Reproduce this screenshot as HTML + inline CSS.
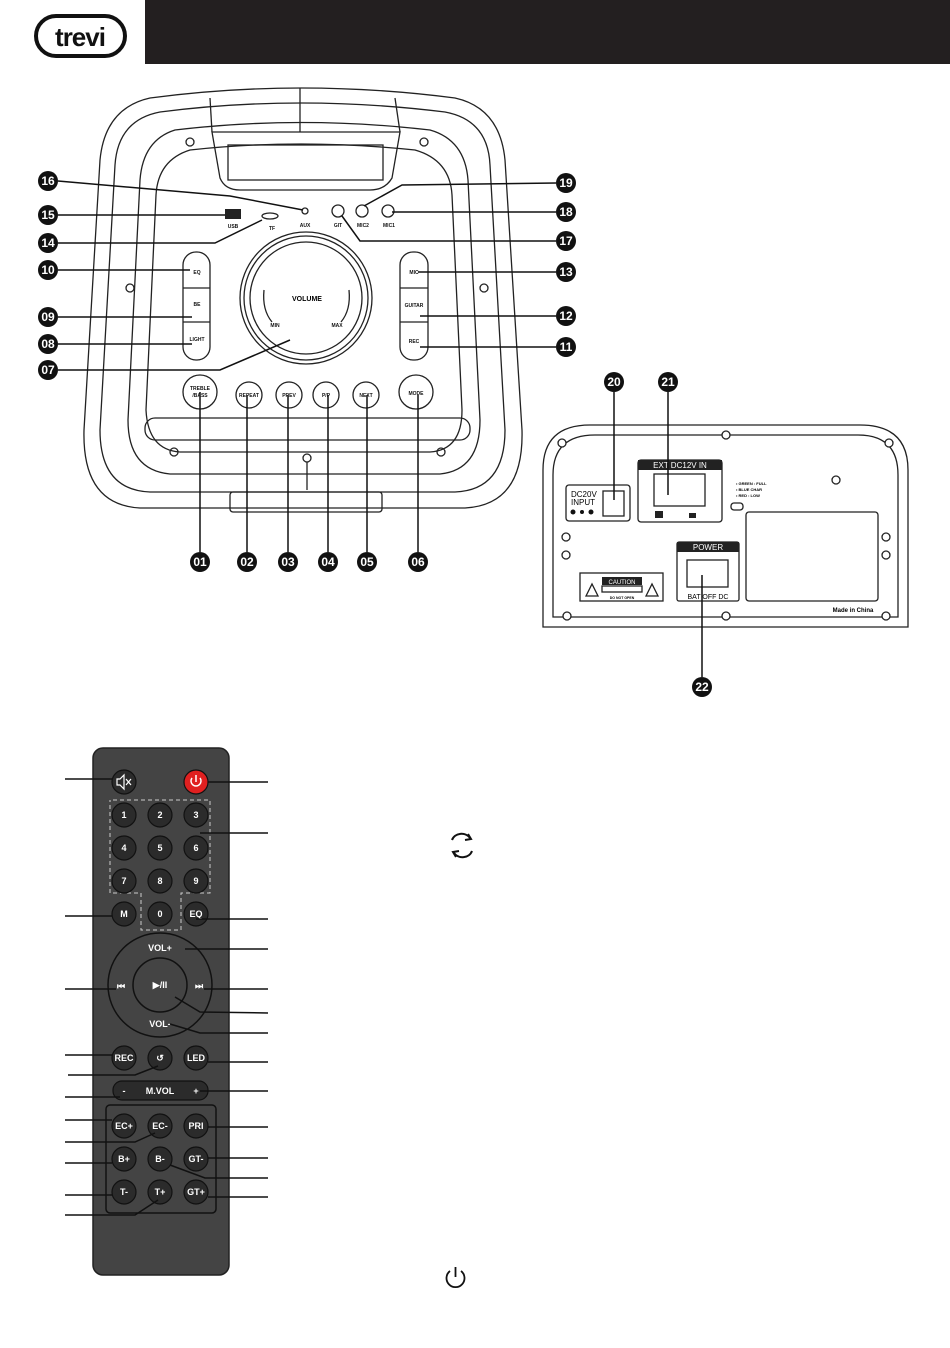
<!DOCTYPE html>
<html><head><meta charset="utf-8"><style>
html,body{margin:0;padding:0;background:#fff;}
svg{display:block;font-family:"Liberation Sans",Arial,sans-serif;}
.b{fill:#111}
.bt{fill:#fff;font-weight:bold;font-size:12px;text-anchor:middle}
.l{stroke:#111;stroke-width:1.5;fill:none}
.o{stroke:#222;stroke-width:1.3;fill:none}
.rb{fill:#2b2b2b;stroke:#111;stroke-width:1.2}
.rt{fill:#fff;font-size:9px;font-weight:bold;text-anchor:middle}
.st{font-size:5px;font-weight:bold;text-anchor:middle;fill:#111}
</style></head><body>
<svg width="950" height="1348" viewBox="0 0 950 1348" xmlns="http://www.w3.org/2000/svg">
<rect x="145" y="0" width="805" height="64" fill="#231f20"/>
<rect x="36" y="16" width="89" height="40" rx="20" fill="none" stroke="#111" stroke-width="4"/>
<text x="80" y="46" font-size="26" font-weight="bold" text-anchor="middle" fill="#111" letter-spacing="-1">trevi</text>

<path class="o" stroke-width="2" d="M150,98 Q300,78 455,98 Q500,108 505,160 L522,430 Q524,505 465,508 L140,508 Q82,505 84,430 L100,160 Q105,108 150,98 Z"/>
<path class="o" d="M160,112 Q300,94 445,112 Q488,120 490,165 L505,430 Q505,490 455,492 L150,492 Q100,490 100,430 L115,165 Q118,120 160,112 Z"/>
<path class="o" stroke-width="2" d="M175,130 Q300,115 430,130 Q465,140 468,180 L480,420 Q480,470 440,474 L170,474 Q128,470 128,420 L140,180 Q143,140 175,130 Z"/>
<path class="o" d="M190,150 Q300,138 415,150 Q450,160 452,195 L462,410 Q462,450 430,452 L180,452 Q148,450 146,410 L156,195 Q158,160 190,150 Z"/>
<path class="o" d="M212,132 L400,132 L392,178 Q385,190 370,190 L240,190 Q225,190 220,178 Z"/>
<rect x="228" y="145" width="155" height="35" class="o"/>
<line x1="300" y1="88" x2="300" y2="132" class="o"/>
<line x1="210" y1="98" x2="212" y2="132" class="o"/>
<line x1="395" y1="98" x2="400" y2="132" class="o"/>
<circle cx="190" cy="142" r="4" class="o"/><circle cx="424" cy="142" r="4" class="o"/>
<circle cx="130" cy="288" r="4" class="o"/><circle cx="484" cy="288" r="4" class="o"/>
<circle cx="174" cy="452" r="4" class="o"/><circle cx="441" cy="452" r="4" class="o"/>
<circle cx="307" cy="458" r="4" class="o"/>
<line x1="307" y1="462" x2="307" y2="490" class="o"/>
<rect x="230" y="492" width="152" height="20" rx="3" class="o"/>
<rect x="145" y="418" width="325" height="22" rx="10" class="o" stroke-width="2"/>
<rect x="225" y="209" width="16" height="10" fill="#222"/>
<text x="233" y="228" class="st">USB</text>
<ellipse cx="270" cy="216" rx="8" ry="3" class="o"/>
<text x="272" y="230" class="st">TF</text>
<circle cx="305" cy="211" r="3" class="o"/>
<text x="305" y="227" class="st">AUX</text>
<circle cx="338" cy="211" r="6" class="o" stroke-width="2"/><text x="338" y="227" class="st">GIT</text>
<circle cx="362" cy="211" r="6" class="o" stroke-width="2"/><text x="363" y="227" class="st">MIC2</text>
<circle cx="388" cy="211" r="6" class="o" stroke-width="2"/><text x="389" y="227" class="st">MIC1</text>
<rect x="183" y="252" width="27" height="108" rx="13" class="o" stroke-width="2"/>
<line x1="183" y1="288" x2="210" y2="288" class="o"/><line x1="183" y1="322" x2="210" y2="322" class="o"/>
<text x="197" y="274" class="st">EQ</text><text x="197" y="306" class="st">BE</text><text x="197" y="341" class="st">LIGHT</text>
<rect x="400" y="252" width="28" height="108" rx="13" class="o" stroke-width="2"/>
<line x1="400" y1="288" x2="428" y2="288" class="o"/><line x1="400" y1="322" x2="428" y2="322" class="o"/>
<text x="414" y="274" class="st">MIC</text><text x="414" y="307" class="st">GUITAR</text><text x="414" y="343" class="st">REC</text>
<circle cx="306" cy="298" r="66" class="o"/>
<circle cx="306" cy="298" r="62" class="o" stroke-width="3"/>
<circle cx="306" cy="298" r="56" class="o"/>
<text x="307" y="301" font-size="7" font-weight="bold" text-anchor="middle">VOLUME</text>
<text x="275" y="327" class="st">MIN</text><text x="337" y="327" class="st">MAX</text>
<path class="o" d="M264,290 Q262,310 272,322"/><path class="o" d="M349,290 Q351,310 341,322"/>
<g class="o" stroke-width="2">
<circle cx="200" cy="392" r="17"/><circle cx="249" cy="395" r="13"/><circle cx="289" cy="395" r="13"/>
<circle cx="326" cy="395" r="13"/><circle cx="366" cy="395" r="13"/><circle cx="416" cy="392" r="17"/>
</g>
<text x="200" y="390" class="st" font-size="6">TREBLE</text><text x="200" y="397" class="st" font-size="6">/BASS</text>
<text x="249" y="397" class="st">REPEAT</text><text x="289" y="397" class="st">PREV</text>
<text x="326" y="397" class="st">P/P</text><text x="366" y="397" class="st">NEXT</text><text x="416" y="395" class="st" font-size="6">MODE</text>
<g class="l">
<polyline points="58,181 230,196 303,210"/>
<line x1="58" y1="215" x2="225" y2="215"/>
<polyline points="58,243 215,243 262,220"/>
<line x1="58" y1="270" x2="190" y2="270"/>
<line x1="58" y1="317" x2="192" y2="317"/>
<line x1="58" y1="344" x2="192" y2="344"/>
<polyline points="58,370 220,370 290,340"/>
<polyline points="556,183 402,185 364,206"/>
<line x1="556" y1="212" x2="392" y2="212"/>
<polyline points="556,241 360,241 342,216"/>
<line x1="556" y1="272" x2="418" y2="272"/>
<line x1="556" y1="316" x2="420" y2="316"/>
<line x1="556" y1="347" x2="420" y2="347"/>
<line x1="200" y1="392" x2="200" y2="552"/>
<line x1="247" y1="395" x2="247" y2="552"/>
<line x1="288" y1="395" x2="288" y2="552"/>
<line x1="328" y1="395" x2="328" y2="552"/>
<line x1="367" y1="395" x2="367" y2="552"/>
<line x1="418" y1="395" x2="418" y2="552"/>
</g>
<g>
<circle class="b" cx="48" cy="181" r="10"/><text class="bt" x="48" y="185">16</text>
<circle class="b" cx="48" cy="215" r="10"/><text class="bt" x="48" y="219">15</text>
<circle class="b" cx="48" cy="243" r="10"/><text class="bt" x="48" y="247">14</text>
<circle class="b" cx="48" cy="270" r="10"/><text class="bt" x="48" y="274">10</text>
<circle class="b" cx="48" cy="317" r="10"/><text class="bt" x="48" y="321">09</text>
<circle class="b" cx="48" cy="344" r="10"/><text class="bt" x="48" y="348">08</text>
<circle class="b" cx="48" cy="370" r="10"/><text class="bt" x="48" y="374">07</text>
<circle class="b" cx="566" cy="183" r="10"/><text class="bt" x="566" y="187">19</text>
<circle class="b" cx="566" cy="212" r="10"/><text class="bt" x="566" y="216">18</text>
<circle class="b" cx="566" cy="241" r="10"/><text class="bt" x="566" y="245">17</text>
<circle class="b" cx="566" cy="272" r="10"/><text class="bt" x="566" y="276">13</text>
<circle class="b" cx="566" cy="316" r="10"/><text class="bt" x="566" y="320">12</text>
<circle class="b" cx="566" cy="347" r="10"/><text class="bt" x="566" y="351">11</text>
<circle class="b" cx="200" cy="562" r="10"/><text class="bt" x="200" y="566">01</text>
<circle class="b" cx="247" cy="562" r="10"/><text class="bt" x="247" y="566">02</text>
<circle class="b" cx="288" cy="562" r="10"/><text class="bt" x="288" y="566">03</text>
<circle class="b" cx="328" cy="562" r="10"/><text class="bt" x="328" y="566">04</text>
<circle class="b" cx="367" cy="562" r="10"/><text class="bt" x="367" y="566">05</text>
<circle class="b" cx="418" cy="562" r="10"/><text class="bt" x="418" y="566">06</text>
<circle class="b" cx="614" cy="382" r="10"/><text class="bt" x="614" y="386">20</text>
<circle class="b" cx="668" cy="382" r="10"/><text class="bt" x="668" y="386">21</text>
<circle class="b" cx="702" cy="687" r="10"/><text class="bt" x="702" y="691">22</text>
</g>

<path class="o" d="M543,627 L543,470 Q543,425 590,425 L860,425 Q908,425 908,470 L908,627 Z"/>
<path class="o" stroke-width="2.5" d="M553,617 L553,475 Q553,435 595,435 L858,435 Q898,435 898,475 L898,617 Z"/>
<g class="o" fill="#fff">
<circle cx="562" cy="443" r="4" fill="#fff"/><circle cx="726" cy="435" r="4" fill="#fff"/><circle cx="889" cy="443" r="4" fill="#fff"/>
<circle cx="567" cy="616" r="4" fill="#fff"/><circle cx="726" cy="616" r="4" fill="#fff"/><circle cx="886" cy="616" r="4" fill="#fff"/>
<circle cx="566" cy="537" r="4"/><circle cx="566" cy="555" r="4"/><circle cx="886" cy="537" r="4"/><circle cx="886" cy="555" r="4"/>
<circle cx="836" cy="480" r="4"/>
</g>
<rect x="566" y="485" width="64" height="36" rx="3" class="o" stroke-width="1.8"/>
<rect x="603" y="491" width="21" height="25" class="o"/>
<text x="571" y="497" font-size="8">DC20V</text><text x="571" y="505" font-size="8">INPUT</text>
<circle cx="573" cy="512" r="2.5" fill="#111"/><circle cx="582" cy="512" r="2" fill="#111"/><circle cx="591" cy="512" r="2.5" fill="#111"/>
<rect x="638" y="460" width="84" height="62" rx="3" class="o" stroke-width="1.8"/>
<rect x="638" y="460" width="84" height="10" fill="#222"/>
<text x="680" y="468" font-size="8" fill="#fff" text-anchor="middle">EXT  DC12V IN</text>
<rect x="654" y="474" width="51" height="32" class="o"/>
<rect x="655" y="511" width="8" height="7" fill="#222"/><rect x="689" y="513" width="7" height="5" fill="#222"/>
<text x="736" y="485" font-size="4" font-weight="bold">• GREEN : FULL</text>
<text x="736" y="491" font-size="4" font-weight="bold">• BLUE CHAR</text>
<text x="736" y="497" font-size="4" font-weight="bold">• RED : LOW</text>
<rect x="731" y="503" width="12" height="7" rx="3" class="o"/>
<rect x="746" y="512" width="132" height="89" rx="3" class="o" stroke-width="1.8"/>
<rect x="677" y="542" width="62" height="59" rx="2" class="o" stroke-width="1.8"/>
<rect x="677" y="542" width="62" height="10" fill="#222"/>
<text x="708" y="550" font-size="8" fill="#fff" text-anchor="middle">POWER</text>
<rect x="687" y="560" width="41" height="27" class="o"/>
<text x="708" y="599" font-size="7" text-anchor="middle">BAT  OFF  DC</text>
<rect x="580" y="573" width="83" height="28" class="o" stroke-width="1.5"/>
<rect x="602" y="577" width="40" height="8" fill="#222"/>
<text x="622" y="584" font-size="6" fill="#fff" text-anchor="middle">CAUTION</text>
<rect x="602" y="586" width="40" height="6" class="o" stroke-width="0.8"/>
<text x="622" y="599" font-size="3.5" text-anchor="middle" font-weight="bold">DO NOT OPEN</text>
<path class="o" d="M586,596 L592,584 L598,596 Z M646,596 L652,584 L658,596 Z"/>
<text x="853" y="612" font-size="6" font-weight="bold" text-anchor="middle">Made in China</text>
<line x1="614" y1="392" x2="614" y2="500" class="l"/>
<line x1="668" y1="392" x2="668" y2="495" class="l"/>
<line x1="702" y1="677" x2="702" y2="575" class="l"/>

<rect x="93" y="748" width="136" height="527" rx="10" fill="#444" stroke="#222" stroke-width="1.5"/>
<path d="M113,800 L210,800 L210,893 L181,893 L181,930 L141,930 L141,893 L110,893 L110,800" fill="none" stroke="#ccc" stroke-width="1" stroke-dasharray="4,3"/>
<circle cx="160" cy="985" r="52" fill="none" stroke="#111" stroke-width="1.5"/>
<circle cx="160" cy="985" r="27" fill="none" stroke="#111" stroke-width="1.5"/>
<rect x="113" y="1081" width="95" height="19" rx="9" class="rb"/>
<rect x="106" y="1105" width="110" height="108" rx="4" fill="none" stroke="#111" stroke-width="1.5"/>
<g>
<circle cx="124" cy="782" r="12" class="rb"/>
<circle cx="196" cy="782" r="12" fill="#e02020" stroke="#111" stroke-width="1.2"/>
<circle cx="124" cy="815" r="12" class="rb"/><circle cx="160" cy="815" r="12" class="rb"/><circle cx="196" cy="815" r="12" class="rb"/>
<circle cx="124" cy="848" r="12" class="rb"/><circle cx="160" cy="848" r="12" class="rb"/><circle cx="196" cy="848" r="12" class="rb"/>
<circle cx="124" cy="881" r="12" class="rb"/><circle cx="160" cy="881" r="12" class="rb"/><circle cx="196" cy="881" r="12" class="rb"/>
<circle cx="124" cy="914" r="12" class="rb"/><circle cx="160" cy="914" r="12" class="rb"/><circle cx="196" cy="914" r="12" class="rb"/>
<circle cx="124" cy="1058" r="12" class="rb"/><circle cx="160" cy="1058" r="12" class="rb"/><circle cx="196" cy="1058" r="12" class="rb"/>
<circle cx="124" cy="1126" r="12" class="rb"/><circle cx="160" cy="1126" r="12" class="rb"/><circle cx="196" cy="1126" r="12" class="rb"/>
<circle cx="124" cy="1159" r="12" class="rb"/><circle cx="160" cy="1159" r="12" class="rb"/><circle cx="196" cy="1159" r="12" class="rb"/>
<circle cx="124" cy="1192" r="12" class="rb"/><circle cx="160" cy="1192" r="12" class="rb"/><circle cx="196" cy="1192" r="12" class="rb"/>
</g>
<path d="M117,779 L120,779 L124,775 L124,789 L120,785 L117,785 Z M126,779 L131,785 M131,779 L126,785" stroke="#fff" stroke-width="1.2" fill="none"/>
<path d="M192,778 A5,5 0 1 0 200,778 M196,775 L196,782" stroke="#fff" stroke-width="1.5" fill="none"/>
<text x="124" y="818" class="rt">1</text><text x="160" y="818" class="rt">2</text><text x="196" y="818" class="rt">3</text>
<text x="124" y="851" class="rt">4</text><text x="160" y="851" class="rt">5</text><text x="196" y="851" class="rt">6</text>
<text x="124" y="884" class="rt">7</text><text x="160" y="884" class="rt">8</text><text x="196" y="884" class="rt">9</text>
<text x="124" y="917" class="rt">M</text><text x="160" y="917" class="rt">0</text><text x="196" y="917" class="rt">EQ</text>
<text x="160" y="951" class="rt" font-size="8">VOL+</text><text x="160" y="1027" class="rt" font-size="8">VOL-</text>
<text x="121" y="989" class="rt" font-size="7">⏮</text><text x="199" y="989" class="rt" font-size="7">⏭</text>
<text x="160" y="988" class="rt" font-size="7">▶/II</text>
<text x="124" y="1061" class="rt">REC</text><text x="160" y="1061" class="rt">↺</text><text x="196" y="1061" class="rt">LED</text>
<text x="124" y="1094" class="rt">-</text><text x="160" y="1094" class="rt">M.VOL</text><text x="196" y="1094" class="rt">+</text>
<text x="124" y="1129" class="rt">EC+</text><text x="160" y="1129" class="rt">EC-</text><text x="196" y="1129" class="rt">PRI</text>
<text x="124" y="1162" class="rt">B+</text><text x="160" y="1162" class="rt">B-</text><text x="196" y="1162" class="rt">GT-</text>
<text x="124" y="1195" class="rt">T-</text><text x="160" y="1195" class="rt">T+</text><text x="196" y="1195" class="rt">GT+</text>
<g class="l" stroke-width="1.2">
<line x1="65" y1="779" x2="112" y2="779"/>
<line x1="65" y1="916" x2="112" y2="916"/>
<line x1="65" y1="989" x2="116" y2="989"/>
<line x1="65" y1="1055" x2="112" y2="1055"/>
<polyline points="68,1075 135,1075 158,1066"/>
<line x1="65" y1="1097" x2="120" y2="1097"/>
<line x1="65" y1="1120" x2="112" y2="1120"/>
<polyline points="65,1142 135,1142 155,1133"/>
<line x1="65" y1="1163" x2="112" y2="1163"/>
<line x1="65" y1="1195" x2="112" y2="1195"/>
<polyline points="65,1215 135,1215 158,1200"/>
<line x1="208" y1="782" x2="268" y2="782"/>
<line x1="200" y1="833" x2="268" y2="833"/>
<line x1="196" y1="919" x2="268" y2="919"/>
<line x1="185" y1="949" x2="268" y2="949"/>
<line x1="204" y1="989" x2="268" y2="989"/>
<polyline points="175,997 200,1012 268,1013"/>
<polyline points="170,1024 200,1033 268,1033"/>
<line x1="208" y1="1062" x2="268" y2="1062"/>
<line x1="200" y1="1091" x2="268" y2="1091"/>
<line x1="208" y1="1127" x2="268" y2="1127"/>
<line x1="208" y1="1158" x2="268" y2="1158"/>
<polyline points="170,1165 205,1178 268,1178"/>
<line x1="208" y1="1197" x2="268" y2="1197"/>
</g>
<path d="M452,840 A10,9 0 0 1 470,838 M468,834 L471,839 L465,840 M472,851 A10,9 0 0 1 454,853 M456,857 L453,852 L459,851" stroke="#111" stroke-width="2" fill="none"/>
<path d="M450,1271 A9,9 0 1 0 461,1271 M455.5,1267 L455.5,1277" stroke="#111" stroke-width="1.8" fill="none"/>
</svg>
</body></html>
